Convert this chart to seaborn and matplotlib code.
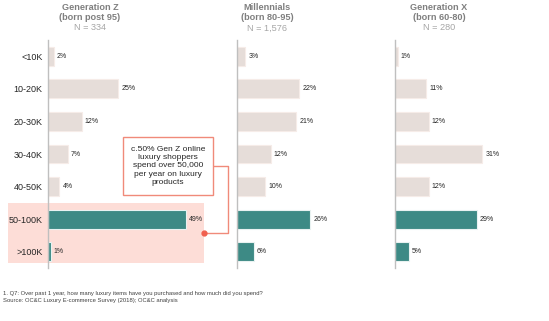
import matplotlib
matplotlib.use("Agg")
import matplotlib.pyplot as plt
import seaborn as sns
import pandas as pd
from matplotlib.patches import Rectangle
from matplotlib.lines import Line2D

sns.set_theme(style="white")
plt.rcParams['font.family'] = ['Liberation Sans', 'DejaVu Sans']

categories = ["<10K", "10-20K", "20-30K", "30-40K", "40-50K", "50-100K", ">100K"]
gen_z = [2, 25, 12, 7, 4, 49, 1]
millennials = [3, 22, 21, 12, 10, 26, 6]
gen_x = [1, 11, 12, 31, 12, 29, 5]
titles = [("Generation Z", "(born post 95)", "N = 334"),
          ("Millennials", "(born 80-95)", "N = 1,576"),
          ("Generation X", "(born 60-80)", "N = 280")]
series = [gen_z, millennials, gen_x]

W, H = 549, 321
fig = plt.figure(figsize=(W / 100, H / 100), dpi=100)

def fx(x):
    return x / W

def fy(y):
    return 1 - y / H

beige = "#E6DDD9"
teal = "#3D8A85"
colors = {c: (teal if c in ("50-100K", ">100K") else beige) for c in categories}
edges = {c: ("#E9F2F1" if c in ("50-100K", ">100K") else "#F6ECE8") for c in categories}

axis_left = [48, 237, 395]
title_cx = [90, 267, 439]
ax_w = 150
xmax = ax_w / 2.82
top_px, bot_px = 40, 268

# pink highlight behind Gen Z 50-100K and >100K rows
fig.patches.append(Rectangle((fx(8), fy(263)), fx(204) - fx(8), fy(203) - fy(263),
                             transform=fig.transFigure, facecolor="#FDDDD7",
                             edgecolor="none", zorder=-5))

for i, (vals, left, tcx, (t1, t2, t3)) in enumerate(zip(series, axis_left, title_cx, titles)):
    ax = fig.add_axes([fx(left), fy(bot_px), ax_w / W, (bot_px - top_px) / H])
    ax.set_facecolor("none")
    df = pd.DataFrame({"cat": categories, "val": vals})
    sns.barplot(data=df, y="cat", x="val", hue="cat", palette=colors, legend=False,
                orient="h", width=0.58, ax=ax, order=categories, hue_order=categories,
                saturation=1, zorder=3)
    for bar, c in zip(ax.patches, categories):
        bar.set_edgecolor(edges[c])
        bar.set_linewidth(0.8)
    for j, v in enumerate(vals):
        ax.text(v + 1.1, j, f"{v}%", va="center", ha="left", fontsize=5, color="#262626")
    ax.set_xlim(0, xmax)
    ax.set_ylim(6.5, -0.5)
    ax.set_xlabel("")
    ax.set_ylabel("")
    ax.set_xticks([])
    for s in ["top", "right", "bottom"]:
        ax.spines[s].set_visible(False)
    ax.spines["left"].set_color("#BFBFBF")
    ax.spines["left"].set_linewidth(1.0)
    ax.spines["left"].set_zorder(4)
    if i == 0:
        ax.tick_params(axis="y", length=0, pad=4, labelsize=6.5, labelcolor="#262626")
    else:
        ax.set_yticks([])
    fig.text(fx(tcx), fy(8), t1, ha="center", va="center", fontsize=6.6,
             fontweight="bold", color="#7F7F7F")
    fig.text(fx(tcx), fy(18), t2, ha="center", va="center", fontsize=6.6,
             fontweight="bold", color="#7F7F7F")
    fig.text(fx(tcx), fy(28), t3, ha="center", va="center", fontsize=6.6,
             color="#A6A6A6")

# annotation box
fig.patches.append(Rectangle((fx(123), fy(195)), fx(213) - fx(123), fy(137) - fy(195),
                             transform=fig.transFigure, facecolor="white",
                             edgecolor="#F08A7A", linewidth=1.0, zorder=6))
fig.text(fx(168), fy(166), "c.50% Gen Z online\nluxury shoppers\nspend over 50,000\nper year on luxury\nproducts",
         ha="center", va="center", fontsize=6, color="#262626", linespacing=1.25, zorder=7)
fig.lines.append(Line2D([fx(213), fx(228), fx(228), fx(204)],
                        [fy(166), fy(166), fy(233), fy(233)],
                        transform=fig.transFigure, color="#F08A7A", linewidth=1.0, zorder=6))
fig.lines.append(Line2D([fx(204)], [fy(233)], transform=fig.transFigure, marker="o",
                        markersize=3.5, color="#F0604F", linestyle="none", zorder=7))

fig.text(fx(3), fy(294), "1. Q7: Over past 1 year, how many luxury items have you purchased and how much did you spend?",
         ha="left", va="center", fontsize=4.2, color="#404040")
fig.text(fx(3), fy(300.5), "Source: OC&C Luxury E-commerce Survey (2018); OC&C analysis",
         ha="left", va="center", fontsize=4.2, color="#404040")

fig.savefig("out.png", dpi=100, facecolor="white")
